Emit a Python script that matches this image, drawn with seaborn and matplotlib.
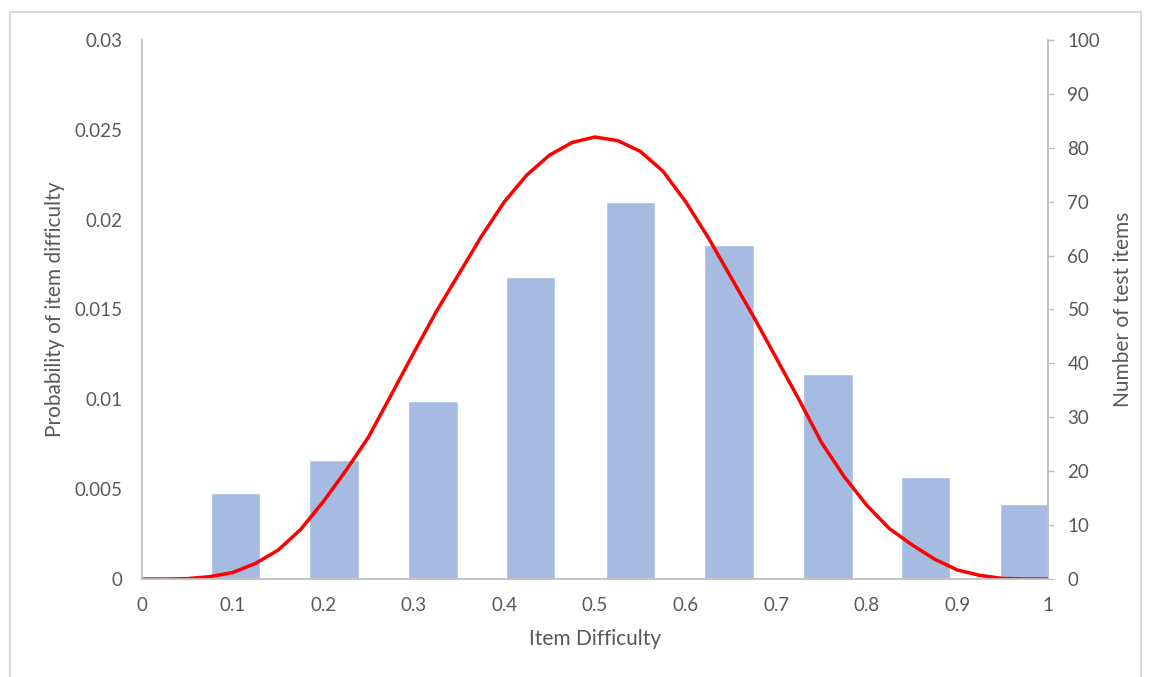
import numpy as np
import pandas as pd
import matplotlib
matplotlib.use("Agg")
import matplotlib.pyplot as plt
from matplotlib.ticker import FuncFormatter, MultipleLocator
from matplotlib.patches import Rectangle
import seaborn as sns

# Bar data (number of test items per difficulty bin, right axis)
bin_centers = [0.103, 0.212, 0.321, 0.429, 0.539, 0.648, 0.757, 0.865, 0.974]
item_counts = [16, 22, 33, 56, 70, 62, 38, 19, 14]

# Probability curve (left axis)
curve_x = [0.000, 0.025, 0.050, 0.075, 0.100, 0.125, 0.150, 0.175, 0.200, 0.225,
           0.250, 0.275, 0.300, 0.325, 0.350, 0.375, 0.400, 0.425, 0.450, 0.475,
           0.500, 0.525, 0.550, 0.575, 0.600, 0.625, 0.650, 0.675, 0.700, 0.725,
           0.750, 0.775, 0.800, 0.825, 0.850, 0.875, 0.900, 0.925, 0.950, 0.975, 1.000]
curve_y = [0.0, 0.0, 0.00002, 0.00013, 0.00036, 0.00086, 0.0016, 0.00275, 0.0043, 0.00603,
           0.0079, 0.01024, 0.0126, 0.0149, 0.0170, 0.0191, 0.0210, 0.0225, 0.0236, 0.0243,
           0.0246, 0.0244, 0.0238, 0.0227, 0.0210, 0.0190, 0.0168, 0.0146, 0.0123, 0.0100,
           0.0076, 0.0057, 0.0041, 0.0028, 0.0019, 0.0011, 0.0005, 0.0002, 0.00003, 0.0, 0.0]

x_ticks = [0, 0.1, 0.2, 0.3, 0.4, 0.5, 0.6, 0.7, 0.8, 0.9, 1.0]

sns.set_style("white")
plt.rcParams['font.family'] = ['Lato', 'DejaVu Sans']

grey_text = '#595959'
axis_grey = '#bfbfbf'
bar_color = '#a5bbe2'

fig = plt.figure(figsize=(11.49, 6.77), dpi=100)
ax = fig.add_axes([142 / 1149, 1 - 579 / 677, 906 / 1149, 539 / 677])
ax2 = ax.twinx()

# Bars on the secondary axis
bars = pd.DataFrame({'bin': bin_centers, 'count': item_counts})
sns.barplot(data=bars, x='bin', y='count', ax=ax2, native_scale=True,
            width=0.507, color=bar_color, saturation=1, errorbar=None)

# Curve on the primary axis, drawn above the bars
curve = pd.DataFrame({'x': curve_x, 'p': curve_y})
sns.lineplot(data=curve, x='x', y='p', ax=ax, color='#ff0000', linewidth=2.5,
             solid_joinstyle='round', solid_capstyle='round')
ax.set_zorder(ax2.get_zorder() + 1)
ax.patch.set_visible(False)

ax.set_xlim(0, 1)
ax.set_ylim(0, 0.03)
ax2.set_ylim(0, 100)
ax.set_xticks(x_ticks)
ax.yaxis.set_major_locator(MultipleLocator(0.005))
ax2.yaxis.set_major_locator(MultipleLocator(10))
fmt = FuncFormatter(lambda v, pos: f'{v:g}')
ax.xaxis.set_major_formatter(fmt)
ax.yaxis.set_major_formatter(fmt)
ax2.yaxis.set_major_formatter(FuncFormatter(lambda v, pos: f'{v:.0f}'))

for a in (ax, ax2):
    for s in a.spines.values():
        s.set_visible(False)
ax.spines['left'].set_visible(True)
ax.spines['bottom'].set_visible(True)
ax2.spines['right'].set_visible(True)
for s in (ax.spines['left'], ax.spines['bottom'], ax2.spines['right']):
    s.set_color(axis_grey)
    s.set_linewidth(1.3)

ax.tick_params(axis='x', length=0, pad=13, labelsize=13.5, labelcolor=grey_text)
ax.tick_params(axis='y', length=0, pad=14, labelsize=13.5, labelcolor=grey_text)
ax2.tick_params(axis='y', length=4, width=1, color=axis_grey, pad=10,
                labelsize=13.5, labelcolor=grey_text)
ax2.set_xlabel('')

ax.set_xlabel('Item Difficulty', fontsize=15, color=grey_text, labelpad=11)
ax.set_ylabel('Probability of item difficulty', fontsize=15, color=grey_text, labelpad=7)
ax2.set_ylabel('Number of test items', fontsize=15, color=grey_text, labelpad=9)

# Light chart frame like the source image
fig.patches.append(Rectangle((10 / 1149, -0.01), 1131 / 1149, 1 - 12 / 677 + 0.01,
                             transform=fig.transFigure, fill=False,
                             edgecolor='#d9d9d9', linewidth=1.5))

fig.savefig('out.png', dpi=100)
